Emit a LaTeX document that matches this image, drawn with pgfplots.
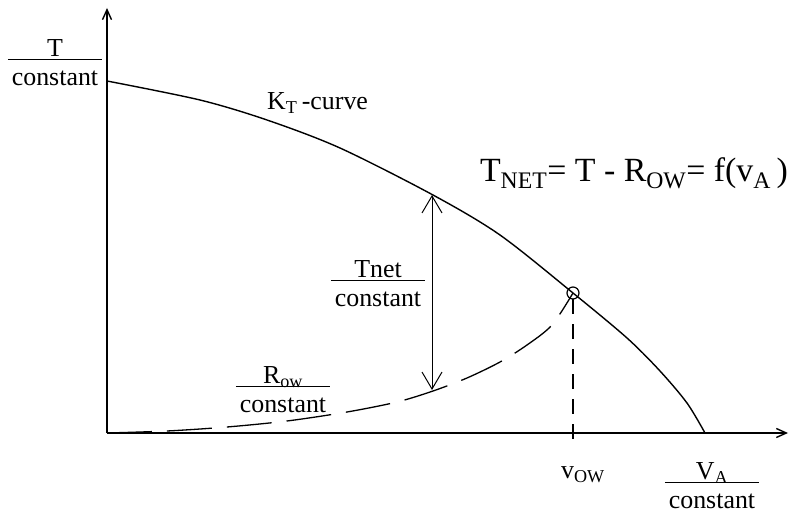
\documentclass[border=0pt]{standalone}
\usepackage{fontspec}
\setmainfont{Liberation Serif}
\usepackage{pgfplots}
\pgfplotsset{compat=1.18}
\usetikzlibrary{arrows.meta}

% quotient label: numerator over a rule over "constant"
\newcommand{\frc}[2]{%
  {\setlength{\arrayrulewidth}{1.2pt}%
   \begin{tabular}{@{\hspace{4pt}}c@{\hspace{4pt}}}#1\\[-7pt]\hline\rule{0pt}{25pt}#2\end{tabular}}}

\tikzset{lbl/.style={font=\fontsize{26}{31}\selectfont, inner sep=0pt}}

\begin{document}
\begin{tikzpicture}
\path[use as bounding box] (0,0) rectangle (790bp,517bp);
\begin{axis}[
  at={(107bp,84bp)}, anchor=origin,
  x=1bp, y=1bp,
  xmin=0, xmax=681, ymin=0, ymax=425,
  axis lines=left, enlargelimits=false, clip=false,
  xtick=\empty, ytick=\empty,
  axis line style={line width=1.4bp, -{Straight Barb[length=10bp,width=9bp]}},
]
% K_T-curve
\addplot[line width=1.4bp, smooth] coordinates {
  (0,352) (93,333) (160,313) (233,285) (326,238)
  (393,198) (466,140) (520,95) (553,62) (580,30) (598,0)
};
% R_ow-curve (dashed)
\addplot[line width=1.3bp, smooth, tension=0.5, dash pattern=on 45bp off 15bp] coordinates {
  (0,0) (60,2) (120,6) (180,12) (240,21) (290,31) (326,42) (360,55)
  (393,71) (420,88) (445,108) (466,140)
};
% operating point and its projection onto the speed axis
\addplot[line width=1.2bp, dash pattern=on 15bp off 10bp] coordinates {(466,134) (466,-10)};
\addplot[only marks, mark=o, mark size=6bp, mark options={line width=1.2bp, fill=white}] coordinates {(466,140)};
% net thrust span
\addplot[line width=1bp, {Straight Barb[length=17bp,width=20bp]}-{Straight Barb[length=17bp,width=20bp]}]
  coordinates {(325,43) (325,238)};

\node[lbl] at (axis cs:-52,368) {\frc{T}{constant}};
\node[lbl, anchor=west] at (axis cs:160,330) {K\textsubscript{T}\,-curve};
\node[font=\fontsize{34}{40}\selectfont, inner sep=0pt] at (axis cs:527,260)
  {T\textsubscript{NET}= T - R\textsubscript{OW}= f(v\textsubscript{A}\,)};
\node[lbl] at (axis cs:271,147) {\frc{Tnet}{constant}};
\node[lbl] at (axis cs:176,41) {\frc{R\textsubscript{ow}}{constant}};
\node[lbl] at (axis cs:476,-42) {v\textsubscript{OW}};
\node[lbl] at (axis cs:605,-55) {\frc{V\textsubscript{A}}{constant}};
\end{axis}
\end{tikzpicture}
\end{document}
